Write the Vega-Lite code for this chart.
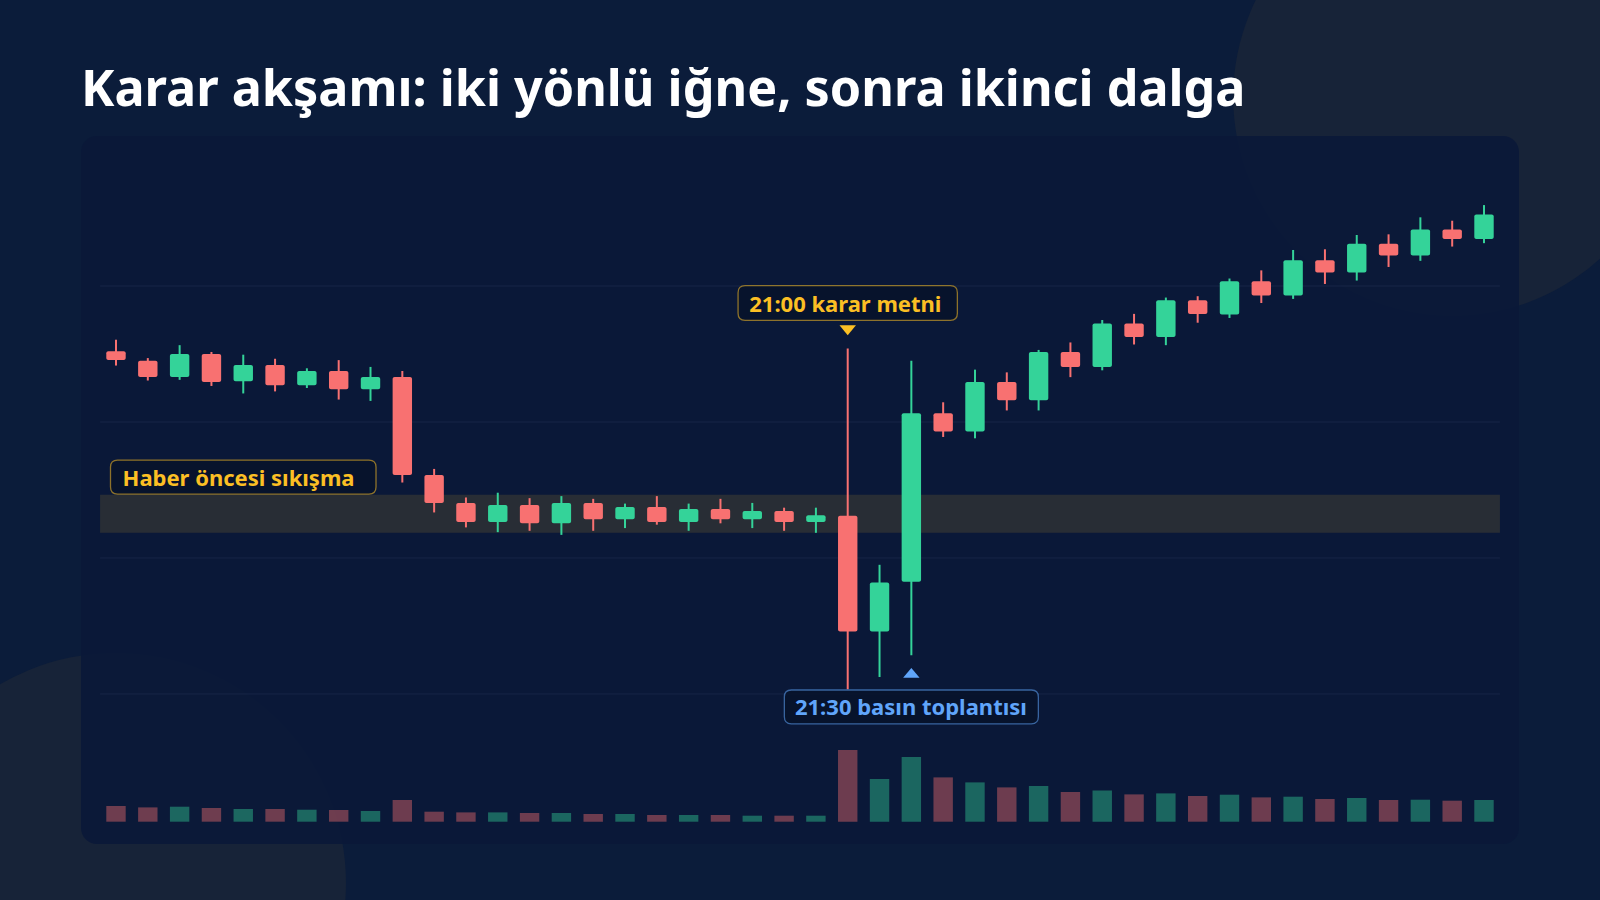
{
  "$schema": "https://vega.github.io/schema/vega-lite/v6.json",
  "width": 1438,
  "height": 708,
  "autosize": "none",
  "padding": {"left": 81, "top": 136, "right": 81, "bottom": 56},
  "background": "#0b1c3a",
  "title": {
    "text": "Karar akşamı: iki yönlü iğne, sonra ikinci dalga",
    "anchor": "start",
    "frame": "group",
    "font": "Noto Sans",
    "fontSize": 50.3,
    "fontWeight": 700,
    "color": "#ffffff",
    "baseline": "alphabetic",
    "offset": -278
  },
  "datasets": {
    "candles": [
      {"t": "15:15", "open": 105.04, "high": 105.21, "low": 104.83, "close": 104.91, "vol": 15.7},
      {"t": "15:30", "open": 104.90, "high": 104.94, "low": 104.61, "close": 104.66, "vol": 14.3},
      {"t": "15:45", "open": 104.66, "high": 105.13, "low": 104.62, "close": 105.00, "vol": 15.0},
      {"t": "16:00", "open": 105.00, "high": 105.03, "low": 104.53, "close": 104.59, "vol": 13.7},
      {"t": "16:15", "open": 104.60, "high": 104.99, "low": 104.42, "close": 104.84, "vol": 12.7},
      {"t": "16:30", "open": 104.84, "high": 104.93, "low": 104.45, "close": 104.54, "vol": 12.7},
      {"t": "16:45", "open": 104.54, "high": 104.79, "low": 104.50, "close": 104.75, "vol": 12.0},
      {"t": "17:00", "open": 104.75, "high": 104.91, "low": 104.33, "close": 104.48, "vol": 11.7},
      {"t": "17:15", "open": 104.48, "high": 104.81, "low": 104.31, "close": 104.66, "vol": 10.7},
      {"t": "17:30", "open": 104.66, "high": 104.75, "low": 103.11, "close": 103.22, "vol": 21.7},
      {"t": "17:45", "open": 103.22, "high": 103.31, "low": 102.67, "close": 102.81, "vol": 10.0},
      {"t": "18:00", "open": 102.81, "high": 102.89, "low": 102.45, "close": 102.53, "vol": 9.3},
      {"t": "18:15", "open": 102.53, "high": 102.96, "low": 102.38, "close": 102.78, "vol": 9.3},
      {"t": "18:30", "open": 102.78, "high": 102.88, "low": 102.40, "close": 102.51, "vol": 8.7},
      {"t": "18:45", "open": 102.51, "high": 102.91, "low": 102.34, "close": 102.81, "vol": 8.7},
      {"t": "19:00", "open": 102.81, "high": 102.87, "low": 102.40, "close": 102.57, "vol": 7.7},
      {"t": "19:15", "open": 102.57, "high": 102.80, "low": 102.44, "close": 102.75, "vol": 7.7},
      {"t": "19:30", "open": 102.75, "high": 102.91, "low": 102.49, "close": 102.53, "vol": 6.7},
      {"t": "19:45", "open": 102.53, "high": 102.80, "low": 102.40, "close": 102.72, "vol": 6.7},
      {"t": "20:00", "open": 102.72, "high": 102.87, "low": 102.51, "close": 102.57, "vol": 6.7},
      {"t": "20:15", "open": 102.57, "high": 102.81, "low": 102.44, "close": 102.69, "vol": 6.0},
      {"t": "20:30", "open": 102.69, "high": 102.74, "low": 102.40, "close": 102.53, "vol": 6.0},
      {"t": "20:45", "open": 102.53, "high": 102.74, "low": 102.37, "close": 102.63, "vol": 6.0},
      {"t": "21:00", "open": 102.62, "high": 105.08, "low": 100.07, "close": 100.92, "vol": 71.7},
      {"t": "21:15", "open": 100.92, "high": 101.90, "low": 100.25, "close": 101.64, "vol": 42.7},
      {"t": "21:30", "open": 101.65, "high": 104.90, "low": 100.57, "close": 104.13, "vol": 64.7},
      {"t": "21:45", "open": 104.13, "high": 104.29, "low": 103.78, "close": 103.86, "vol": 44.3},
      {"t": "22:00", "open": 103.86, "high": 104.77, "low": 103.76, "close": 104.59, "vol": 39.3},
      {"t": "22:15", "open": 104.59, "high": 104.73, "low": 104.17, "close": 104.32, "vol": 34.3},
      {"t": "22:30", "open": 104.32, "high": 105.06, "low": 104.17, "close": 105.03, "vol": 35.7},
      {"t": "22:45", "open": 105.03, "high": 105.17, "low": 104.66, "close": 104.81, "vol": 29.7},
      {"t": "23:00", "open": 104.81, "high": 105.50, "low": 104.76, "close": 105.45, "vol": 31.3},
      {"t": "23:15", "open": 105.45, "high": 105.59, "low": 105.14, "close": 105.25, "vol": 27.3},
      {"t": "23:30", "open": 105.25, "high": 105.83, "low": 105.13, "close": 105.79, "vol": 28.3},
      {"t": "23:45", "open": 105.79, "high": 105.85, "low": 105.46, "close": 105.59, "vol": 25.7},
      {"t": "00:00", "open": 105.58, "high": 106.11, "low": 105.53, "close": 106.07, "vol": 27.0},
      {"t": "00:15", "open": 106.07, "high": 106.23, "low": 105.75, "close": 105.86, "vol": 24.3},
      {"t": "00:30", "open": 105.86, "high": 106.53, "low": 105.81, "close": 106.38, "vol": 25.0},
      {"t": "00:45", "open": 106.38, "high": 106.54, "low": 106.03, "close": 106.20, "vol": 22.7},
      {"t": "01:00", "open": 106.20, "high": 106.75, "low": 106.08, "close": 106.62, "vol": 23.7},
      {"t": "01:15", "open": 106.62, "high": 106.76, "low": 106.28, "close": 106.45, "vol": 21.7},
      {"t": "01:30", "open": 106.45, "high": 107.01, "low": 106.37, "close": 106.83, "vol": 22.0},
      {"t": "01:45", "open": 106.83, "high": 106.96, "low": 106.58, "close": 106.69, "vol": 21.0},
      {"t": "02:00", "open": 106.69, "high": 107.19, "low": 106.63, "close": 107.05, "vol": 21.7}
    ],
    "notes": [
      {"t": "16:15", "price": 103.19, "label": "Haber öncesi sıkışma"},
      {"t": "21:00", "price": 105.75, "label": "21:00 karar metni"},
      {"t": "21:30", "price": 99.81, "label": "21:30 basın toplantısı"}
    ],
    "markers": [
      {"t": "21:00", "price": 105.35, "dir": "down"},
      {"t": "21:30", "price": 100.31, "dir": "up"}
    ],
    "grid": [
      {"y": 100, "from": "15:15", "to": "02:00"},
      {"y": 102, "from": "15:15", "to": "02:00"},
      {"y": 104, "from": "15:15", "to": "02:00"},
      {"y": 106, "from": "15:15", "to": "02:00"}
    ],
    "zone": [
      {"from": "15:15", "to": "02:00", "low": 102.37, "high": 102.93}
    ]
  },
  "layer": [
    {
      "layer": [
        {
          "data": {"values": [{}]},
          "mark": {"type": "point", "shape": "circle", "filled": true, "size": 191844, "color": "#172338", "opacity": 1},
          "encoding": {
            "x": {"datum": "01:45", "type": "ordinal"},
            "y": {"datum": 108.78, "type": "quantitative"}
          }
        },
        {
          "data": {"values": [{}]},
          "mark": {"type": "point", "shape": "circle", "filled": true, "size": 211600, "color": "#172338", "opacity": 1},
          "encoding": {
            "x": {"datum": "15:15", "type": "ordinal"},
            "y": {"datum": 97.22, "type": "quantitative"}
          }
        },
        {
          "data": {"values": [{}]},
          "mark": {"type": "rect", "color": "#0a1838", "opacity": 0.9, "cornerRadius": 16},
          "encoding": {}
        },
        {
          "data": {"name": "grid"},
          "mark": {"type": "rule", "color": "#8aa0c8", "opacity": 0.1, "strokeWidth": 1},
          "encoding": {
            "x": {"field": "from", "type": "ordinal", "bandPosition": 0},
            "x2": {"field": "to", "bandPosition": 1},
            "y": {"field": "y", "type": "quantitative"}
          }
        },
        {
          "data": {"name": "zone"},
          "mark": {"type": "rect", "color": "#fbbf24", "opacity": 0.13},
          "encoding": {
            "x": {"field": "from", "type": "ordinal", "bandPosition": 0},
            "x2": {"field": "to", "bandPosition": 1},
            "y": {"field": "low", "type": "quantitative"},
            "y2": {"field": "high"}
          }
        },
        {
          "data": {"name": "candles"},
          "mark": {"type": "rule", "strokeWidth": 2},
          "encoding": {
            "x": {"field": "t", "type": "ordinal"},
            "y": {"field": "low", "type": "quantitative"},
            "y2": {"field": "high"},
            "color": {"condition": {"test": "datum.close >= datum.open", "value": "#34d399"}, "value": "#f87171"}
          }
        },
        {
          "data": {"name": "candles"},
          "mark": {"type": "bar", "width": {"band": 0.61}, "cornerRadius": 2},
          "encoding": {
            "x": {
              "field": "t", "type": "ordinal", "axis": null,
              "scale": {
                "type": "band", "paddingInner": 0, "paddingOuter": 0.6,
                "domain": ["15:15","15:30","15:45","16:00","16:15","16:30","16:45","17:00","17:15","17:30","17:45","18:00","18:15","18:30","18:45","19:00","19:15","19:30","19:45","20:00","20:15","20:30","20:45","21:00","21:15","21:30","21:45","22:00","22:15","22:30","22:45","23:00","23:15","23:30","23:45","00:00","00:15","00:30","00:45","01:00","01:15","01:30","01:45","02:00"]
              }
            },
            "y": {"field": "open", "type": "quantitative", "axis": null, "scale": {"domain": [97.794, 108.206], "nice": false, "zero": false}},
            "y2": {"field": "close"},
            "color": {"condition": {"test": "datum.close >= datum.open", "value": "#34d399"}, "value": "#f87171"}
          }
        }
      ]
    },
    {
      "data": {"name": "candles"},
      "mark": {"type": "bar", "width": {"band": 0.61}, "opacity": 0.42},
      "encoding": {
        "x": {"field": "t", "type": "ordinal"},
        "y": {"field": "vol", "type": "quantitative", "axis": null, "scale": {"domain": [0, 100], "range": [685.7, 585.7], "nice": false}},
        "color": {"condition": {"test": "datum.close >= datum.open", "value": "#34d399"}, "value": "#f87171"}
      }
    },
    {
      "layer": [
        {
          "data": {"name": "notes"},
          "transform": [{"filter": "datum.t == '16:15'"}],
          "mark": {"type": "point", "shape": "M -0.947,-0.128 L 0.947,-0.128 Q 1,-0.128 1,-0.075 L 1,0.075 Q 1,0.128 0.947,0.128 L -0.947,0.128 Q -1,0.128 -1,0.075 L -1,-0.075 Q -1,-0.128 -0.947,-0.128 Z", "size": 70490, "filled": true, "fill": "#08132b", "fillOpacity": 0.92, "stroke": "#fbbf24", "strokeOpacity": 0.55, "strokeWidth": 1.3, "opacity": 1},
          "encoding": {
            "x": {"field": "t", "type": "ordinal"},
            "y": {"field": "price", "type": "quantitative", "axis": null, "scale": {"domain": [97.794, 108.206], "nice": false, "zero": false}}
          }
        },
        {
          "data": {"name": "notes"},
          "transform": [{"filter": "datum.t == '21:00'"}],
          "mark": {"type": "point", "shape": "M -0.936,-0.158 L 0.936,-0.158 Q 1,-0.158 1,-0.094 L 1,0.094 Q 1,0.158 0.936,0.158 L -0.936,0.158 Q -1,0.158 -1,0.094 L -1,-0.094 Q -1,-0.158 -0.936,-0.158 Z", "size": 48092, "filled": true, "fill": "#08132b", "fillOpacity": 0.92, "stroke": "#fbbf24", "strokeOpacity": 0.55, "strokeWidth": 1.3, "opacity": 1},
          "encoding": {
            "x": {"field": "t", "type": "ordinal"},
            "y": {"field": "price", "type": "quantitative"}
          }
        },
        {
          "data": {"name": "notes"},
          "transform": [{"filter": "datum.t == '21:30'"}],
          "mark": {"type": "point", "shape": "M -0.945,-0.133 L 0.945,-0.133 Q 1,-0.133 1,-0.078 L 1,0.078 Q 1,0.133 0.945,0.133 L -0.945,0.133 Q -1,0.133 -1,0.078 L -1,-0.078 Q -1,-0.133 -0.945,-0.133 Z", "size": 64516, "filled": true, "fill": "#08132b", "fillOpacity": 0.92, "stroke": "#60a5fa", "strokeOpacity": 0.55, "strokeWidth": 1.3, "opacity": 1},
          "encoding": {
            "x": {"field": "t", "type": "ordinal"},
            "y": {"field": "price", "type": "quantitative"}
          }
        },
        {
          "data": {"name": "notes"},
          "transform": [{"filter": "datum.t == '16:15'"}],
          "mark": {"type": "text", "align": "left", "baseline": "alphabetic", "dx": -120.7, "dy": 8.6, "font": "Noto Sans", "fontSize": 22, "fontWeight": 700, "color": "#fbbf24"},
          "encoding": {
            "x": {"field": "t", "type": "ordinal"},
            "y": {"field": "price", "type": "quantitative"},
            "text": {"field": "label"}
          }
        },
        {
          "data": {"name": "notes"},
          "transform": [{"filter": "datum.t == '21:00'"}],
          "mark": {"type": "text", "align": "left", "baseline": "alphabetic", "dx": -98.5, "dy": 8.7, "font": "Noto Sans", "fontSize": 22, "fontWeight": 700, "color": "#fbbf24"},
          "encoding": {
            "x": {"field": "t", "type": "ordinal"},
            "y": {"field": "price", "type": "quantitative"},
            "text": {"field": "label"}
          }
        },
        {
          "data": {"name": "notes"},
          "transform": [{"filter": "datum.t == '21:30'"}],
          "mark": {"type": "text", "align": "left", "baseline": "alphabetic", "dx": -116.4, "dy": 8.4, "font": "Noto Sans", "fontSize": 22, "fontWeight": 700, "color": "#60a5fa"},
          "encoding": {
            "x": {"field": "t", "type": "ordinal"},
            "y": {"field": "price", "type": "quantitative"},
            "text": {"field": "label"}
          }
        },
        {
          "data": {"name": "markers"},
          "mark": {"type": "point", "filled": true, "size": 272, "opacity": 1},
          "encoding": {
            "x": {"field": "t", "type": "ordinal"},
            "y": {"field": "price", "type": "quantitative"},
            "shape": {"condition": {"test": "datum.dir == 'down'", "value": "M -1,-0.6 L 1,-0.6 L 0,0.6 Z"}, "value": "M 0,-0.6 L 1,0.6 L -1,0.6 Z"},
            "color": {"condition": {"test": "datum.dir == 'down'", "value": "#fbbf24"}, "value": "#60a5fa"}
          }
        }
      ]
    }
  ],
  "resolve": {"scale": {"y": "independent"}},
  "config": {
    "view": {"stroke": null},
    "axis": {"disable": true},
    "text": {"font": "Noto Sans"}
  }
}
